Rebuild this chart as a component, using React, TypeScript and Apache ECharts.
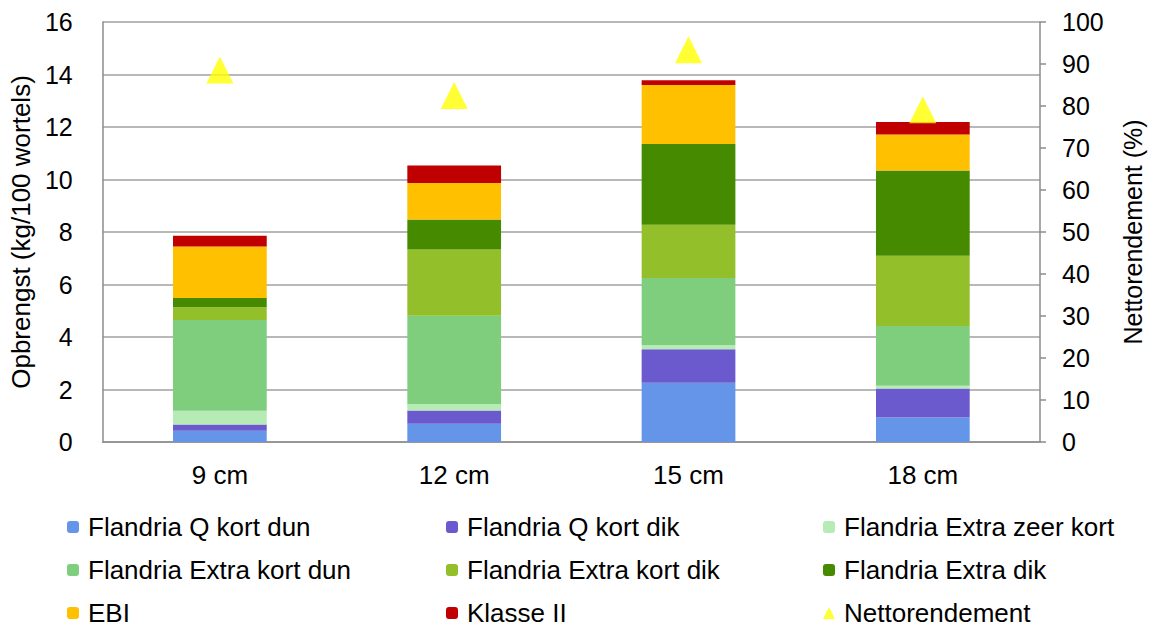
import React, { useEffect, useRef } from "react";
import * as echarts from "echarts";

const categories = ["9 cm", "12 cm", "15 cm", "18 cm"];

const qKortDun = [0.43, 0.7, 2.26, 0.93];
const qKortDik = [0.24, 0.5, 1.27, 1.11];
const extraZeerKort = [0.52, 0.25, 0.16, 0.1];
const extraKortDun = [3.46, 3.36, 2.56, 2.28];
const extraKortDik = [0.48, 2.52, 2.03, 2.68];
const extraDik = [0.36, 1.15, 3.07, 3.24];
const ebi = [1.96, 1.39, 2.25, 1.37];
const klasseII = [0.41, 0.66, 0.18, 0.48];
const nettorendement = [88.6, 82.5, 93.4, 79.1];

const leftTicks = { min: 0, max: 16, interval: 2 };
const rightTicks = { min: 0, max: 100, interval: 10 };

const legendCol1 = ["Flandria Q kort dun", "Flandria Extra kort dun", "EBI"];
const legendCol2 = ["Flandria Q kort dik", "Flandria Extra kort dik", "Klasse II"];
const legendCol3 = ["Flandria Extra zeer kort", "Flandria Extra dik", "Nettorendement"];

const barSeries = [
  { name: "Flandria Q kort dun", data: qKortDun, color: "#6495E8" },
  { name: "Flandria Q kort dik", data: qKortDik, color: "#6A5ACD" },
  { name: "Flandria Extra zeer kort", data: extraZeerKort, color: "#B6EBB6" },
  { name: "Flandria Extra kort dun", data: extraKortDun, color: "#7ECE7E" },
  { name: "Flandria Extra kort dik", data: extraKortDik, color: "#93C02A" },
  { name: "Flandria Extra dik", data: extraDik, color: "#468A00" },
  { name: "EBI", data: ebi, color: "#FFC000" },
  { name: "Klasse II", data: klasseII, color: "#C00000" },
];

const FONT = "'Liberation Sans', Arial, sans-serif";

export default function App() {
  const ref = useRef<HTMLDivElement>(null);
  useEffect(() => {
    if (!ref.current) return;
    const chart = echarts.init(ref.current, null, { renderer: "svg" });
    const legendBase = {
      orient: "vertical" as const,
      top: 514,
      height: 200,
      padding: 0,
      itemWidth: 12,
      itemHeight: 12,
      itemGap: 17,
      textStyle: { fontSize: 26, color: "#000", fontFamily: FONT, padding: [0, 0, 0, 4] },
      selectedMode: false,
    };
    chart.setOption({
      animation: false,
      textStyle: { fontFamily: FONT },
      grid: { left: 97, right: 110, top: 22, bottom: 188 },
      legend: [
        { ...legendBase, left: 67, data: legendCol1 },
        { ...legendBase, left: 446, data: legendCol2 },
        { ...legendBase, left: 823, data: legendCol3 },
      ],
      xAxis: {
        type: "category",
        data: categories,
        axisTick: { show: false },
        axisLine: { lineStyle: { color: "#8C8C8C", width: 1.5 } },
        axisLabel: { fontSize: 26, color: "#000", margin: 20, fontFamily: FONT },
      },
      yAxis: [
        {
          type: "value",
          ...leftTicks,
          name: "Opbrengst (kg/100 wortels)",
          nameLocation: "middle",
          nameGap: 52,
          nameRotate: 90,
          nameTextStyle: { fontSize: 26, color: "#000", fontFamily: FONT },
          axisLine: { show: true, lineStyle: { color: "#8C8C8C", width: 1.5 } },
          axisTick: { show: false },
          axisLabel: { fontSize: 25, color: "#000", margin: 30, fontFamily: FONT },
          splitLine: { lineStyle: { color: "#A0A0A0", width: 1.5 } },
        },
        {
          type: "value",
          ...rightTicks,
          position: "right",
          name: "Nettorendement (%)",
          nameLocation: "middle",
          nameGap: 80,
          nameRotate: 90,
          nameTextStyle: { fontSize: 25, color: "#000", fontFamily: FONT },
          axisLine: { show: true, lineStyle: { color: "#8C8C8C", width: 1.5 } },
          axisTick: { show: true, inside: false, length: 6, lineStyle: { color: "#8C8C8C", width: 1.5 } },
          axisLabel: { fontSize: 25, color: "#000", margin: 22, fontFamily: FONT },
          splitLine: { show: false },
        },
      ],
      series: [
        ...barSeries.map((s) => ({
          name: s.name,
          type: "bar",
          stack: "total",
          barWidth: "40%",
          data: s.data,
          itemStyle: { color: s.color },
          yAxisIndex: 0,
        })),
        {
          name: "Nettorendement",
          type: "scatter",
          yAxisIndex: 1,
          data: nettorendement,
          symbol: "triangle",
          symbolSize: [27, 27],
          itemStyle: { color: "#FFFF00" },
          z: 5,
        },
      ],
    });
    return () => chart.dispose();
  }, []);
  return <div ref={ref} style={{ width: 1153, height: 630, position: "absolute", left: 0, top: 0 }} />;
}
